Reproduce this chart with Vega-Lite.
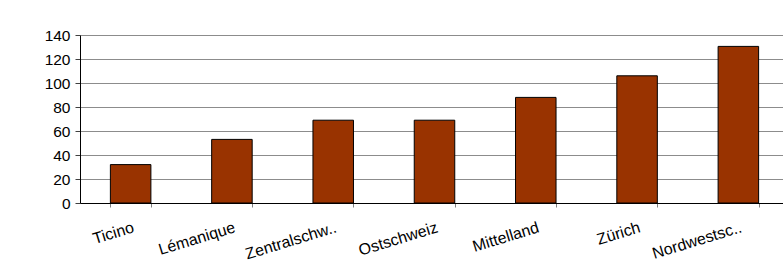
{
  "$schema": "https://vega.github.io/schema/vega-lite/v6.json",
  "autosize": "none",
  "width": 703,
  "height": 168,
  "padding": {"left": 80, "top": 35, "right": 0, "bottom": 67},
  "background": "white",
  "config": {
    "view": {"stroke": null},
    "font": "Liberation Sans"
  },
  "data": {
    "values": [
      {"region": "Ticino", "value": 32},
      {"region": "Lémanique", "value": 53},
      {"region": "Zentralschw..", "value": 69},
      {"region": "Ostschweiz", "value": 69},
      {"region": "Mittelland", "value": 88},
      {"region": "Zürich", "value": 106},
      {"region": "Nordwestsc..", "value": 130.5}
    ]
  },
  "mark": {"type": "bar", "color": "#993300", "stroke": "#000000", "strokeWidth": 1},
  "encoding": {
    "x": {
      "field": "region",
      "type": "nominal",
      "sort": null,
      "title": null,
      "scale": {"paddingInner": 0.6, "paddingOuter": 0.3, "range": [0, 709]},
      "axis": {
        "labelAngle": -17,
        "labelAlign": "right",
        "labelBaseline": "top",
        "labelFontSize": 16,
        "labelColor": "#000000",
        "labelPadding": 12,
        "labelOverlap": false,
        "tickBand": "extent",
        "tickSize": 4,
        "tickColor": "#808080",
        "domainColor": "#000000",
        "domainWidth": 1,
        "grid": false
      }
    },
    "y": {
      "field": "value",
      "type": "quantitative",
      "title": null,
      "scale": {"domain": [0, 140], "nice": false},
      "axis": {
        "values": [0, 20, 40, 60, 80, 100, 120, 140],
        "labelFontSize": 15.5,
        "labelColor": "#000000",
        "labelPadding": 5,
        "tickSize": 5,
        "tickColor": "#404040",
        "domainColor": "#000000",
        "gridColor": "#8c8c8c",
        "gridOpacity": 1,
        "grid": true
      }
    }
  }
}
